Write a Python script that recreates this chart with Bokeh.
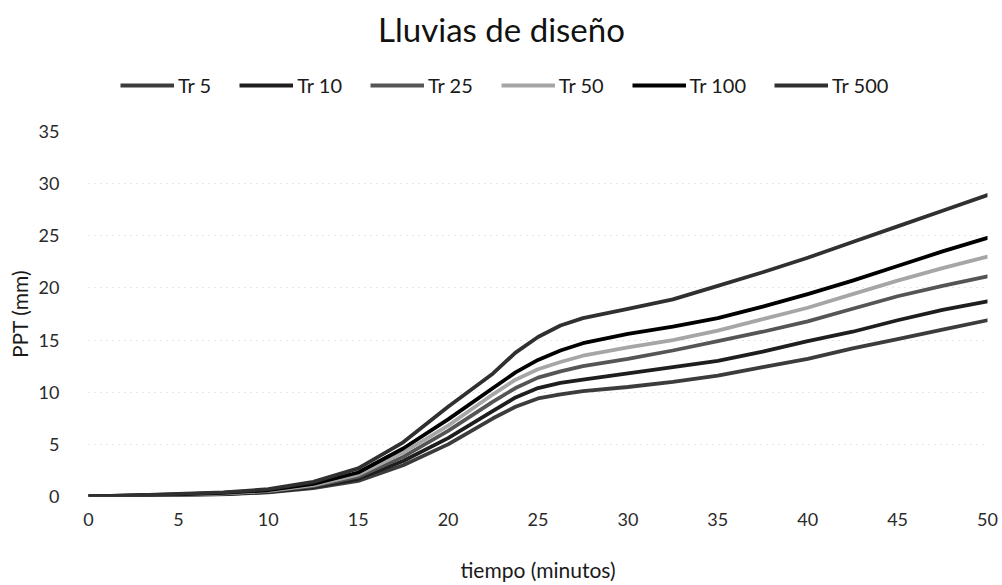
from bokeh.plotting import figure
from bokeh.models import Legend, LegendItem, FixedTicker, Range1d, Label
from bokeh.layouts import column
from bokeh.embed import file_html
from bokeh.resources import INLINE

# Design storms: cumulative precipitation (mm) against time (minutes)
tiempo = [0, 2.5, 5, 7.5, 10, 12.5, 15, 17.5, 20, 22.5, 23.75, 25, 26.25, 27.5,
          30, 32.5, 35, 37.5, 40, 42.5, 45, 47.5, 50]

tr5 = [0, 0.05, 0.12, 0.2, 0.4, 0.8, 1.5, 3.0, 5.0, 7.5, 8.6, 9.4, 9.8, 10.1,
       10.5, 11.0, 11.6, 12.4, 13.2, 14.2, 15.1, 16.0, 16.9]
tr10 = [0, 0.06, 0.13, 0.24, 0.45, 0.9, 1.7, 3.4, 5.6, 8.2, 9.5, 10.4, 10.9, 11.2,
        11.8, 12.4, 13.0, 13.9, 14.9, 15.8, 16.9, 17.9, 18.7]
tr25 = [0, 0.07, 0.15, 0.28, 0.5, 1.0, 1.9, 3.8, 6.3, 9.1, 10.4, 11.4, 12.0, 12.5,
        13.2, 14.0, 14.9, 15.8, 16.8, 18.0, 19.2, 20.2, 21.1]
tr50 = [0, 0.08, 0.18, 0.3, 0.55, 1.1, 2.1, 4.2, 6.8, 9.8, 11.2, 12.2, 12.9, 13.5,
        14.3, 15.0, 15.9, 17.0, 18.1, 19.4, 20.7, 21.9, 23.0]
tr100 = [0, 0.1, 0.2, 0.35, 0.6, 1.2, 2.3, 4.6, 7.4, 10.4, 11.9, 13.1, 14.0, 14.7,
         15.6, 16.3, 17.1, 18.2, 19.4, 20.7, 22.1, 23.5, 24.8]
tr500 = [0, 0.1, 0.25, 0.4, 0.7, 1.4, 2.7, 5.2, 8.6, 11.8, 13.8, 15.3, 16.4, 17.1,
         18.0, 18.9, 20.2, 21.5, 22.9, 24.4, 25.9, 27.4, 28.9]

series_names = ["Tr 5", "Tr 10", "Tr 25", "Tr 50", "Tr 100", "Tr 500"]
series_values = [tr5, tr10, tr25, tr50, tr100, tr500]
series_colors = ["#3c3c3c", "#1e1e1e", "#555555", "#a6a6a6", "#000000", "#303030"]

x_ticks = [0, 5, 10, 15, 20, 25, 30, 35, 40, 45, 50]
y_ticks = [0, 5, 10, 15, 20, 25, 30, 35]

FONT = "Lato"
HEAD_H = 121
W = 1002
LEFT, RIGHT = 88, 15

# ---- chart ----
p = figure(width=W, height=585 - HEAD_H, output_backend="svg", toolbar_location=None,
           title=None, x_range=Range1d(0, 50), y_range=Range1d(0, 35),
           min_border_left=LEFT, min_border_right=RIGHT,
           min_border_top=10, min_border_bottom=89,
           background_fill_color="white", border_fill_color="white")
p.outline_line_color = None

for ax in (p.xaxis[0], p.yaxis[0]):
    ax.axis_line_color = None
    ax.major_tick_line_color = None
    ax.minor_tick_line_color = None
    ax.major_label_text_font = FONT
    ax.major_label_text_font_size = "18px"
    ax.major_label_text_color = "#2a2a2a"
    ax.axis_label_text_font = FONT
    ax.axis_label_text_font_size = "21px"
    ax.axis_label_text_font_style = "normal"
    ax.axis_label_text_color = "#1a1a1a"

p.xaxis.ticker = FixedTicker(ticks=x_ticks)
p.yaxis.ticker = FixedTicker(ticks=y_ticks)
p.xaxis.major_label_standoff = 10
p.yaxis.major_label_standoff = 23
p.xaxis.axis_label = "tiempo (minutos)"
p.yaxis.axis_label = "PPT (mm)"
p.xaxis.axis_label_standoff = 28
p.yaxis.axis_label_standoff = 4

p.xgrid.grid_line_color = None
p.ygrid.grid_line_color = "#cfcfcf"
p.ygrid.grid_line_dash = "1 5"
p.ygrid.grid_line_width = 1

for vals, col in zip(series_values, series_colors):
    p.line(tiempo, vals, line_color=col, line_width=3.8,
           line_join="round", line_cap="round")

# ---- header: title and legend (frame aligned with the chart frame) ----
head = figure(width=W, height=HEAD_H, output_backend="svg", toolbar_location=None,
              title=None, x_range=Range1d(LEFT, W - RIGHT), y_range=Range1d(0, HEAD_H),
              x_axis_type=None, y_axis_type=None,
              min_border_left=LEFT, min_border_right=RIGHT,
              min_border_top=0, min_border_bottom=0,
              background_fill_color="white", border_fill_color="white")
head.outline_line_color = None
head.xgrid.grid_line_color = None
head.ygrid.grid_line_color = None

nan = float("nan")
items = []
for name, col in zip(series_names, series_colors):
    key = head.line([nan], [nan], line_color=col, line_width=3.8)
    items.append(LegendItem(label=name, renderers=[key]))

legend = Legend(items=items, orientation="horizontal", location=(120 - LEFT, HEAD_H - 97),
                label_text_font=FONT, label_text_font_size="20px",
                label_text_color="#1a1a1a", glyph_width=54, glyph_height=20,
                label_standoff=4, spacing=28, padding=0, margin=0,
                border_line_color=None, background_fill_alpha=0)
head.add_layout(legend)

head.add_layout(Label(x=501, y=HEAD_H - 28, text="Lluvias de diseño",
                      text_font=FONT, text_font_size="33px", text_color="#111111",
                      text_align="center", text_baseline="middle"))

layout = column(head, p, spacing=0)
open("out.html", "w").write(file_html(layout, INLINE))
